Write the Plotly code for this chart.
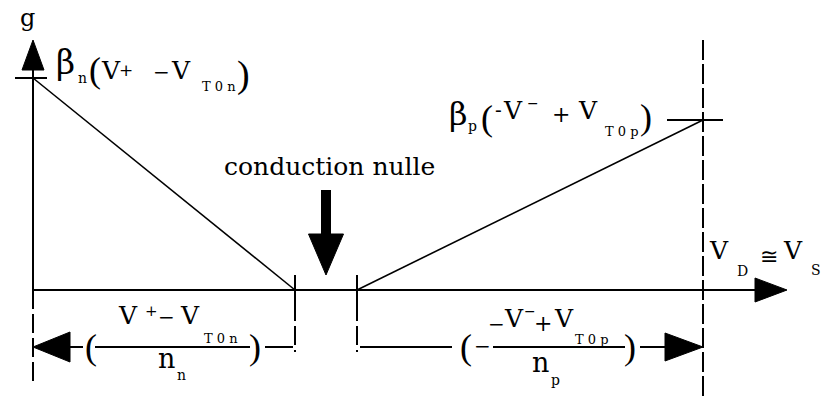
import plotly.graph_objects as go

# Conductance g of the complementary pair versus input voltage.
# n branch: g falls from beta_n(V+ - VT0n) to zero; p branch: rises from zero to beta_p(-V- + VT0p).
n_branch_v = [0, 262]
n_branch_g = [212, 0]
p_branch_v = [324, 670]
p_branch_g = [0, 170]

W, H = 822, 400
X0, Y0 = 33, 290          # pixel position of the origin inside the page


def px(x):
    return x - X0


def py(y):
    return Y0 - y


FONT = "DejaVu Serif"
PAREN_FONT = "Liberation Serif"

fig = go.Figure()

# the two conduction branches
fig.add_trace(go.Scatter(x=n_branch_v, y=n_branch_g, mode="lines",
                         line=dict(color="black", width=1.6), hoverinfo="skip"))
fig.add_trace(go.Scatter(x=p_branch_v, y=p_branch_g, mode="lines",
                         line=dict(color="black", width=1.6), hoverinfo="skip"))

shapes = []


def seg(x0, y0, x1, y1, w=2, dash="solid"):
    shapes.append(dict(type="line", xref="x", yref="y", x0=x0, y0=y0, x1=x1, y1=y1,
                       line=dict(color="black", width=w, dash=dash)))


def tri(pts):
    path = "M " + " L ".join(f"{x},{y}" for x, y in pts) + " Z"
    shapes.append(dict(type="path", xref="x", yref="y", path=path,
                       fillcolor="black", line=dict(color="black", width=1)))


v_origin = n_branch_v[0]
g_n_peak = n_branch_g[0]
v_n_zero = n_branch_v[1]
v_p_zero = p_branch_v[0]
v_sat = p_branch_v[1]
g_p_peak = p_branch_g[1]

g_top = py(40)            # tip of the g-axis arrow
v_tip = px(787)           # tip of the V-axis arrow
dim = py(347)             # level of the dimension lines
DASH = "19px,5px"

# g axis with arrow and the tick at beta_n(...)
seg(v_origin, 0, v_origin, g_top - 28)
tri([(v_origin - 11, g_top - 30), (v_origin + 11, g_top - 30), (v_origin, g_top)])
seg(v_origin - 18, g_n_peak, v_origin + 14, g_n_peak)
seg(v_origin, 0, v_origin, py(383), dash=DASH)

# V axis with arrow
seg(v_origin, 0, v_tip - 30, 0)
tri([(v_tip - 32, -12), (v_tip - 32, 12), (v_tip, 0)])

# ticks where each branch reaches zero, extended downwards
for v in (v_n_zero, v_p_zero):
    seg(v, 15, v, -12)
    seg(v, -12, v, py(352), dash=DASH)

# saturation level of V_D = V_S
seg(v_sat, g_top, v_sat, py(400), dash="20px,4px")
seg(v_sat - 36, g_p_peak, v_sat + 20, g_p_peak)

# left dimension: (V+ - VT0n)/n_n
tri([(v_origin, dim), (v_origin + 37, dim + 15), (v_origin + 37, dim - 15)])
seg(v_origin + 37, dim, v_origin + 50, dim)
seg(px(95), dim, px(250), dim, w=2)
seg(px(265), dim, v_n_zero - 2, dim)

# right dimension: -(-V- + VT0p)/n_p
seg(v_p_zero + 3, dim, px(452), dim)
seg(px(493), dim, px(625), dim, w=2)
seg(px(640), dim, v_sat - 38, dim)
tri([(v_sat - 38, dim + 14), (v_sat - 38, dim - 14), (v_sat, dim)])

# "conduction nulle" arrow
mid = (v_n_zero + v_p_zero) / 2
shapes.append(dict(type="rect", xref="x", yref="y", x0=mid - 5, x1=mid + 5,
                   y0=py(234), y1=py(190), fillcolor="black", line=dict(width=0)))
tri([(mid - 17.5, py(234)), (mid + 17.5, py(234)), (mid, py(275))])

annotations = []


def t(s, xc, yc, size, family=FONT):
    annotations.append(dict(text=s, x=px(xc), y=py(yc), xref="x", yref="y",
                            showarrow=False, xanchor="center", yanchor="middle",
                            font=dict(family=family, size=size, color="black")))


# axis name
t("g", 27, 18, 24)

# beta_n(V+ - VT0n)
t("β", 65, 62, 33)
t("n", 82, 78, 14)
t("(", 95, 70, 36, PAREN_FONT)
t("V", 111, 70, 25)
t("+", 126, 70, 17)
t("−", 161, 72, 20)
t("V", 181, 70, 25)
t("T 0 n", 219, 86, 13)
t(")", 243, 74, 38, PAREN_FONT)

# beta_p(-V- + VT0p)
t("β", 458, 114, 32)
t("p", 472, 126, 14)
t("(", 487, 118, 36, PAREN_FONT)
t("-", 498, 110, 20)
t("V", 513, 110, 25)
t("−", 533, 103, 14)
t("+", 561, 114, 22)
t("V", 588, 110, 25)
t("T 0 p", 622, 131, 13)
t(")", 646, 117, 36, PAREN_FONT)

t("conduction nulle", 329, 166, 25)

# V_D = V_S
t("V", 719, 250, 25)
t("D", 742, 271, 14)
t("≅", 769, 256, 22)
t("V", 793, 250, 25)
t("S", 816, 270, 14)

# left fraction
t("(", 91, 347, 36, PAREN_FONT)
t("V", 128, 315, 25)
t("+", 151, 311, 15)
t("−", 166, 317, 20)
t("V", 190, 315, 25)
t("T 0 n", 221, 338, 13)
t(")", 255, 347, 36, PAREN_FONT)
t("n", 166, 358, 27)
t("n", 181, 375, 14)

# right fraction
t("(", 466, 347, 36, PAREN_FONT)
t("−", 482, 346, 20)
t("−", 496, 324, 20)
t("V", 514, 318, 25)
t("−", 530, 311, 14)
t("+", 543, 323, 22)
t("V", 564, 318, 25)
t("T 0 p", 592, 339, 13)
t(")", 630, 347, 36, PAREN_FONT)
t("n", 540, 362, 27)
t("p", 555, 380, 14)

fig.update_layout(
    width=W, height=H,
    margin=dict(l=0, r=0, t=0, b=0),
    paper_bgcolor="white", plot_bgcolor="white",
    showlegend=False,
    xaxis=dict(range=[px(0), px(W)], visible=False, fixedrange=True),
    yaxis=dict(range=[py(H), py(0)], visible=False, fixedrange=True),
    shapes=shapes,
    annotations=annotations,
)

fig.write_html("out.html")
